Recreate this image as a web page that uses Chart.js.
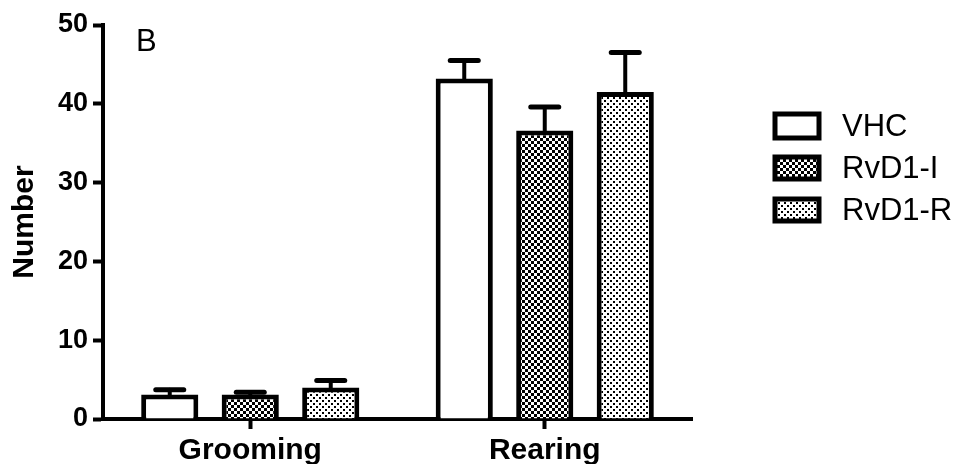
<!DOCTYPE html>
<html>
<head>
<meta charset="utf-8">
<script src="https://cdn.jsdelivr.net/npm/chart.js@4"></script>
<style>
  html, body { margin: 0; padding: 0; background: #fff; }
  #wrap { width: 958px; height: 464px; }
</style>
</head>
<body>
<div id="wrap"><canvas id="behaviourChart" width="958" height="464"></canvas></div>
<script>
// values
var categories = ['Grooming', 'Rearing'];
var groups = ['VHC', 'RvD1-I', 'RvD1-R'];
var vhcMean = [3.1, 43.2];
var vhcSem = [0.6, 2.3];
var rvd1iMean = [3.1, 36.6];
var rvd1iSem = [0.3, 3.0];
var rvd1rMean = [4.0, 41.5];
var rvd1rSem = [0.9, 5.0];
var yTicks = [0, 10, 20, 30, 40, 50];

var FONT = '"Liberation Sans", Arial, sans-serif';

function makePattern(kind) {
    var c = document.createElement('canvas');
    c.width = 6; c.height = 6;
    var g = c.getContext('2d');
    g.fillStyle = '#fff';
    g.fillRect(0, 0, 6, 6);
    g.fillStyle = '#000';
    if (kind === 'checker') {
        g.fillRect(0, 0, 3, 3);
        g.fillRect(3, 3, 3, 3);
    } else {
        g.fillRect(1, 1, 2, 2);
        g.fillRect(4, 4, 2, 2);
    }
    return g.createPattern(c, 'repeat');
}

var fills = ['#ffffff', makePattern('checker'), makePattern('dots')];
var means = [vhcMean, rvd1iMean, rvd1rMean];
var sems = [vhcSem, rvd1iSem, rvd1rSem];

var datasets = groups.map(function (name, i) {
    return {
        label: name,
        data: means[i],
        sem: sems[i],
        backgroundColor: fills[i],
        borderColor: '#000',
        borderWidth: 5,
        borderSkipped: 'start'
    };
});

// upper error bars
var errorBars = {
    id: 'errorBars',
    afterDatasetsDraw: function (chart) {
        var ctx = chart.ctx;
        var y = chart.scales.y;
        ctx.save();
        ctx.strokeStyle = '#000';
        ctx.lineCap = 'round';
        chart.data.datasets.forEach(function (ds, i) {
            chart.getDatasetMeta(i).data.forEach(function (bar, j) {
                var top = y.getPixelForValue(ds.data[j] + ds.sem[j]);
                ctx.lineWidth = 4;
                ctx.beginPath();
                ctx.moveTo(bar.x, bar.y);
                ctx.lineTo(bar.x, top);
                ctx.stroke();
                ctx.lineWidth = 5;
                ctx.beginPath();
                ctx.moveTo(bar.x - 14, top);
                ctx.lineTo(bar.x + 14, top);
                ctx.stroke();
            });
        });
        ctx.restore();
    }
};

// panel letter and the boxed legend on the right
var extras = {
    id: 'extras',
    afterDraw: function (chart) {
        var ctx = chart.ctx;
        ctx.save();
        ctx.fillStyle = '#000';
        ctx.font = '31px ' + FONT;
        ctx.textBaseline = 'alphabetic';
        ctx.fillText('B', 136, 51);

        var rows = [126, 168, 210];
        chart.data.datasets.forEach(function (ds, i) {
            var cy = rows[i];
            var h = i === 0 ? 24 : 22;
            ctx.fillStyle = ds.backgroundColor;
            ctx.fillRect(775, cy - h / 2, 44, h);
            ctx.lineWidth = 5;
            ctx.strokeStyle = '#000';
            ctx.strokeRect(775, cy - h / 2, 44, h);
            ctx.fillStyle = '#000';
            ctx.font = '31px ' + FONT;
            ctx.textBaseline = 'middle';
            ctx.fillText(ds.label, 842, cy + 1);
        });
        ctx.restore();
    }
};

new Chart(document.getElementById('behaviourChart'), {
    type: 'bar',
    data: { labels: categories, datasets: datasets },
    options: {
        responsive: false,
        animation: false,
        layout: { padding: { left: 0, right: 266, top: 25, bottom: 0 } },
        datasets: {
            bar: { categoryPercentage: 0.82, barPercentage: 0.71 }
        },
        plugins: {
            legend: { display: false },
            tooltip: { enabled: false }
        },
        scales: {
            x: {
                z: 1,
                grid: {
                    offset: false,
                    drawOnChartArea: false,
                    tickLength: 10,
                    tickWidth: 4,
                    tickColor: '#000',
                    color: '#000'
                },
                border: { color: '#000', width: 4 },
                ticks: {
                    color: '#000',
                    padding: 4,
                    font: { family: FONT, size: 30, weight: 'bold' }
                },
                afterFit: function (scale) { scale.height = 45; }
            },
            y: {
                min: 0,
                max: 50,
                afterBuildTicks: function (scale) {
                    scale.ticks = yTicks.map(function (v) { return { value: v }; });
                },
                grid: {
                    drawOnChartArea: false,
                    tickLength: 10,
                    tickWidth: 4,
                    tickColor: '#000',
                    color: '#000'
                },
                border: { color: '#000', width: 4 },
                ticks: {
                    color: '#000',
                    padding: 5,
                    font: { family: FONT, size: 27, weight: 'bold' }
                },
                title: {
                    display: true,
                    text: 'Number',
                    color: '#000',
                    padding: { top: 7, bottom: 0 },
                    font: { family: FONT, size: 30, weight: 'bold' }
                },
                afterFit: function (scale) { scale.width = 103; }
            }
        }
    },
    plugins: [errorBars, extras]
});
</script>
</body>
</html>
